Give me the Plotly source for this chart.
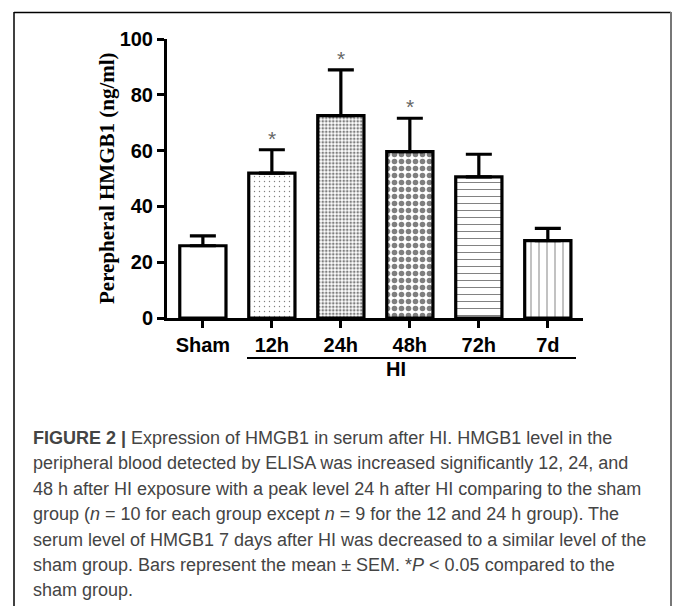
import plotly.graph_objects as go

categories = ["Sham", "12h", "24h", "48h", "72h", "7d"]
means = [25.9, 51.9, 72.5, 59.6, 50.6, 27.7]
sems = [3.5, 8.4, 16.4, 12.0, 8.1, 4.4]
significant = [False, True, True, True, False, False]
patterns = ["", ".", ".", ".", "-", "|"]
pattern_sizes = [6, 5, 3.5, 7, 7, 8]
pattern_solidity = [0.1, 0.06, 0.45, 0.5, 0.14, 0.12]
y_ticks = [0, 20, 40, 60, 80, 100]

caption_lines = [
    "<b>FIGURE 2 |</b> Expression of HMGB1 in serum after HI. HMGB1 level in the",
    "peripheral blood detected by ELISA was increased significantly 12, 24, and",
    "48 h after HI exposure with a peak level 24 h after HI comparing to the sham",
    "group (<i>n</i> = 10 for each group except <i>n</i> = 9 for the 12 and 24 h group). The",
    "serum level of HMGB1 7 days after HI was decreased to a similar level of the",
    "sham group. Bars represent the mean ± SEM. *<i>P</i> < 0.05 compared to the",
    "sham group.",
]

W, H = 673, 606
L, R, T, B = 167, 583, 39, 318  # plot area in pixels
pw, ph = R - L, B - T


def px(x):
    return (x - L) / pw


def py(y):
    return (B - y) / ph


fig = go.Figure()
fig.add_trace(go.Bar(
    x=categories,
    y=means,
    width=0.67,
    marker=dict(
        color="white",
        line=dict(color="black", width=3.2),
        pattern=dict(shape=patterns, size=pattern_sizes, solidity=pattern_solidity,
                     fgcolor="black", bgcolor="white", fillmode="overlay"),
    ),
    error_y=dict(type="data", array=sems, arrayminus=[0] * len(sems), symmetric=False,
                 color="black", thickness=3.2, width=13),
    showlegend=False,
    hoverinfo="skip",
))

annotations = []
for c, m, s, sig in zip(categories, means, sems, significant):
    if sig:
        annotations.append(dict(x=c, y=m + s, xref="x", yref="y", text="*", showarrow=False,
                                yanchor="bottom", yshift=-2,
                                font=dict(family="Arial, Liberation Sans", size=21, color="#666")))

annotations.append(dict(x=px(107), y=py(178), xref="paper", yref="paper",
                        xanchor="center", yanchor="middle",
                        text="Perepheral HMGB1 (ng/ml)", textangle=-90, showarrow=False,
                        font=dict(family="Liberation Serif, Times New Roman", size=21,
                                  color="black", weight="bold")))
annotations.append(dict(x=px(396), y=py(382), xref="paper", yref="paper", text="HI",
                        xanchor="center", showarrow=False,
                        font=dict(family="Arial, Liberation Sans", size=20, color="black",
                                  weight="bold")))
line_y = [438, 463, 489, 514, 540, 565, 590]
for t, yy in zip(caption_lines, line_y):
    annotations.append(dict(x=px(31), y=py(yy), xref="paper", yref="paper", text=t,
                            xanchor="left", yanchor="middle", showarrow=False, align="left",
                            font=dict(family="Liberation Sans, Arial", size=18,
                                      color="#444")))

shapes = [
    # HI underline
    dict(type="line", xref="paper", yref="paper", x0=px(247), x1=px(576), y0=py(358),
         y1=py(358), line=dict(color="black", width=2)),
    # frame
    dict(type="line", xref="paper", yref="paper", x0=px(14), x1=px(671), y0=py(12.5),
         y1=py(12.5), line=dict(color="black", width=1.5)),
    dict(type="line", xref="paper", yref="paper", x0=px(14), x1=px(14), y0=py(12),
         y1=py(620), line=dict(color="black", width=1.5)),
    dict(type="line", xref="paper", yref="paper", x0=px(671), x1=px(671), y0=py(12),
         y1=py(620), line=dict(color="#777", width=2)),
]

fig.update_layout(
    width=W, height=H,
    margin=dict(l=L, r=W - R, t=T, b=H - B),
    paper_bgcolor="white", plot_bgcolor="white",
    annotations=annotations, shapes=shapes,
    xaxis=dict(range=[-0.52, 5.51], showline=True, linecolor="black", linewidth=3,
               ticks="outside", ticklen=7, tickwidth=2.5, tickcolor="black",
               showgrid=False, zeroline=False,
               tickfont=dict(family="Arial, Liberation Sans", size=20, color="black",
                             weight="bold")),
    yaxis=dict(range=[0, 100], tickvals=y_ticks, showline=True, linecolor="black",
               linewidth=3, ticks="outside", ticklen=7, tickwidth=2.5, tickcolor="black",
               showgrid=False, zeroline=False,
               tickfont=dict(family="Arial, Liberation Sans", size=20, color="black",
                             weight="bold")),
)

fig.write_html(
    "out.html",
    config={"displayModeBar": False},
    post_script="document.body.style.margin='0';document.body.style.padding='0';"
                "document.body.style.overflow='hidden';"
                "document.documentElement.style.overflow='hidden';",
)
